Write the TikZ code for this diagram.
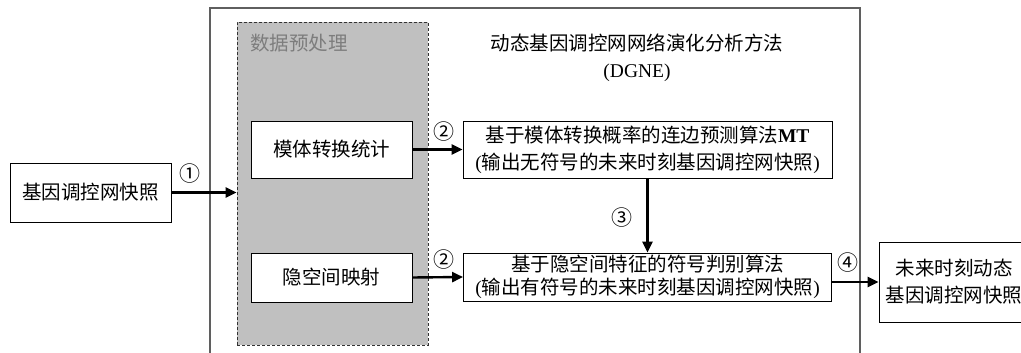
\documentclass[tikz,border=0pt]{standalone}
\usepackage{fontspec}
\setmainfont{Liberation Serif}
\newfontfamily\cjk{Noto Sans CJK SC}
\usetikzlibrary{arrows.meta}
\definecolor{framegray}{RGB}{95,95,95}
\definecolor{boxgray}{RGB}{192,192,192}
\definecolor{labelgray}{RGB}{125,125,125}

\begin{document}
\begin{tikzpicture}[x=1pt,y=1pt,
  every node/.style={font=\fontsize{19.5}{27}\selectfont\cjk, inner sep=0pt},
  blk/.style={draw=black, line width=0.9pt, fill=white, align=center},
  flow/.style={line width=2.4pt, -{Triangle[length=11pt,width=10pt]}},
  num/.style={font=\fontsize{21}{21}\selectfont\cjk}]
  \useasboundingbox (0,0) rectangle (1021,-353);
  % outer frame of the method
  \draw [framegray, line width=1.2pt] (210,-353) -- (210,-8) -- (860,-8) -- (860,-353);
  \node (title) [align=center] at (637,-58) {动态基因调控网网络演化分析方法\\{\rmfamily (DGNE)}};
  % preprocessing block
  \node (preproc) [draw=black!80, densely dashed, line width=0.8pt, fill=boxgray,
    minimum width=191pt, minimum height=323pt] at (332.5,-183.5) {};
  \node (preproclab) [anchor=west, text=labelgray] at (250,-43) {数据预处理};
  \node (motif) [blk, minimum width=161pt, minimum height=57pt] at (331.5,-149.5) {模体转换统计};
  \node (latent) [blk, minimum width=161pt, minimum height=49pt] at (331.5,-277.5) {隐空间映射};
  % input and algorithms
  \node (snapshot) [blk, minimum width=161pt, minimum height=59pt] at (90.5,-192.5) {基因调控网快照};
  \node (mtalg) [blk, minimum width=369pt, minimum height=57pt] at (647.5,-149.5)
    {基于模体转换概率的连边预测算法{\rmfamily\bfseries MT}\\{\rmfamily(}输出无符号的未来时刻基因调控网快照{\rmfamily)}};
  \node (signalg) [blk, minimum width=368pt, minimum height=48pt, font=\fontsize{19.5}{23}\selectfont\cjk] at (647.5,-277)
    {基于隐空间特征的符号判别算法\\{\rmfamily(}输出有符号的未来时刻基因调控网快照{\rmfamily)}};
  \node (result) [blk, minimum width=150pt, minimum height=80pt] at (954,-282)
    {未来时刻动态\\基因调控网快照};
  % arrows
  \draw [flow] (snapshot.east) -- (preproc.west |- snapshot.east);
  \draw [flow] (motif.east) -- (mtalg.west);
  \draw [flow] (latent.east) -- (signalg.west);
  \draw [flow] (mtalg.south) -- (signalg.north);
  \draw [flow] (signalg.east |- result.west) -- (result.west);
  \node (lab1) [num] at (190,-174) {①};
  \node (lab2a) [num] at (444,-132) {②};
  \node (lab2b) [num] at (444,-260) {②};
  \node (lab3) [num] at (622,-218) {③};
  \node (lab4) [num] at (848,-263) {④};
\end{tikzpicture}
\end{document}
